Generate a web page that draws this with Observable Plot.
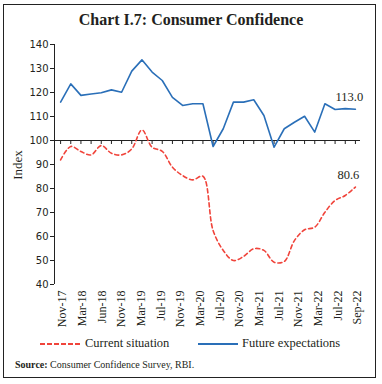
<!DOCTYPE html>
<html><head><meta charset="utf-8">
<script src="https://cdn.jsdelivr.net/npm/d3@7"></script>
<script src="https://cdn.jsdelivr.net/npm/@observablehq/plot@0.6"></script>
<style>
body{margin:0;background:#fff;}
#wrap{position:relative;width:382px;height:384px;overflow:hidden;font-family:"Liberation Serif",serif;color:#231f20;}
#frame{position:absolute;left:3px;top:4px;width:371px;height:372px;border:1.5px solid #222;}
#title{position:absolute;top:11px;left:0;width:382px;text-align:center;font-weight:bold;font-size:16px;}
#chart{position:absolute;left:0;top:0;}
#ylab{position:absolute;left:18px;top:165px;transform:translate(-50%,-50%) rotate(-90deg);font-size:13px;white-space:nowrap;}
.leg{position:absolute;top:336px;font-size:12.5px;display:flex;align-items:center;white-space:nowrap;}
.leg svg{margin-right:4px;}
#source{position:absolute;left:15px;top:359px;font-size:10px;white-space:nowrap;}
</style></head>
<body>
<div id="wrap">
  <div id="frame"></div>
  <div id="title">Chart I.7: Consumer Confidence</div>
  <div id="chart"></div>
  <div id="ylab">Index</div>
  <div class="leg" id="leg1" style="left:40px"></div>
  <div class="leg" id="leg2" style="left:198px"></div>
  <div id="source"><b>Source:</b> Consumer Confidence Survey, RBI.</div>
</div>
<script>
const months = ["Nov-17","Dec-17","Mar-18","May-18","Jun-18","Sep-18","Nov-18","Dec-18","Mar-19","May-19","Jul-19","Sep-19","Nov-19","Jan-20","Mar-20","May-20","Jul-20","Sep-20","Nov-20","Jan-21","Mar-21","May-21","Jul-21","Sep-21","Nov-21","Jan-22","Mar-22","May-22","Jul-22","Sep-22"];
const currentSituation = [91.9,97.5,95.4,94.0,97.9,94.7,94.0,96.5,104.4,97.2,95.5,88.9,85.4,83.6,85.1,62.5,54.2,50.0,51.7,54.9,54.2,49.3,49.6,58.3,62.8,63.9,70.1,75.0,77.1,80.6];
const futureExpectations = [116.0,123.6,118.8,119.4,119.9,121.1,120.1,128.9,133.6,128.5,125.0,118.0,114.6,115.3,115.3,97.5,104.9,116.0,116.0,117.0,110.4,97.2,104.9,107.6,110.1,103.5,115.3,112.9,113.3,113.0];
const tickLabels = ["Nov-17","Mar-18","Jun-18","Nov-18","Mar-19","Jul-19","Nov-19","Mar-20","Jul-20","Nov-20","Mar-21","Jul-21","Nov-21","Mar-22","Jul-22","Sep-22"];
const seriesNames = ["Current situation","Future expectations"];
const yTicks = [40,50,60,70,80,90,100,110,120,130,140];

const red = "#f0443b", blue = "#2a6fb8";
const n = months.length;
const rows = months.map((m,i)=>({i, month:m, current: currentSituation[i], future: futureExpectations[i]}));
const xDomain = [-0.6, n - 0.5];
const tickPos = tickLabels.map((_,k)=> 0.2 + k*(n-1)/(tickLabels.length-1));
const labelAt = new Map(tickPos.map((p,k)=>[p, tickLabels[k]]));
const last = rows[n-1];

const plot = Plot.plot({
  width: 382, height: 340,
  marginLeft: 54, marginRight: 22, marginTop: 44, marginBottom: 56,
  x: {domain: xDomain, axis: null},
  y: {domain: [40,140], axis: null},
  style: {background: "transparent", color: "#231f20"},
  marks: [
    Plot.ruleY([100], {stroke: "#222", strokeWidth: 1}),
    Plot.ruleX(rows, {x: "i", y1: 100, y2: 100, insetBottom: -4, stroke: "#222"}),
    Plot.ruleX([xDomain[0]], {stroke: "#222"}),
    Plot.axisY({ticks: yTicks, tickSize: 4, tickPadding: 2, fontSize: 10, fontFamily: "DejaVu Sans", label: null, stroke: "#222"}),
    Plot.axisX({ticks: tickPos, tickFormat: d => labelAt.get(d), tickRotate: -90, tickSize: 0, tickPadding: 6, label: null, fontFamily: "Liberation Serif", fontSize: 12}),
    Plot.line(rows, {x: "i", y: "current", stroke: red, strokeWidth: 1.6, strokeDasharray: "4,3", curve: "catmull-rom"}),
    Plot.line(rows, {x: "i", y: "future", stroke: blue, strokeWidth: 1.6}),
    Plot.text([last], {x: "i", y: "future", text: d => d.future.toFixed(1), dx: -6, dy: -12, fontSize: 12.5, fontFamily: "Liberation Serif", fill: "#231f20"}),
    Plot.text([last], {x: "i", y: "current", text: d => d.current.toFixed(1), dx: -7, dy: -12, fontSize: 12.5, fontFamily: "Liberation Serif", fill: "#231f20"})
  ]
});
document.getElementById("chart").appendChild(plot);

document.getElementById("leg1").innerHTML = `<svg width="41" height="6"><line x1="0" y1="3" x2="41" y2="3" stroke="${red}" stroke-width="2" stroke-dasharray="5,2"/></svg><span>${seriesNames[0]}</span>`;
document.getElementById("leg2").innerHTML = `<svg width="40" height="6"><line x1="0" y1="3" x2="40" y2="3" stroke="${blue}" stroke-width="2"/></svg><span>${seriesNames[1]}</span>`;
</script>
</body></html>
